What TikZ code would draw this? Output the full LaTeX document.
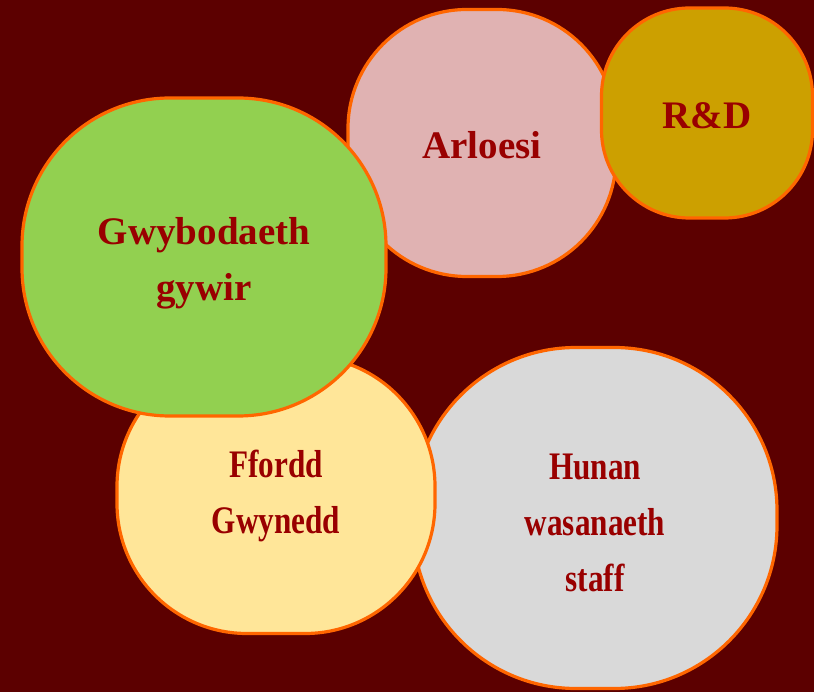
\documentclass[tikz,border=0pt]{standalone}
\usepackage{fontspec}
\setmainfont{Liberation Serif}
\newfontfamily\narrowfont[FakeStretch=0.8]{Liberation Serif}
\usepackage{tikz}
\definecolor{bgred}{RGB}{92, 0, 0}
\definecolor{rim}{RGB}{255, 102, 0}
\definecolor{wordred}{RGB}{153, 0, 0}
\definecolor{rosepink}{RGB}{224, 178, 178}
\definecolor{goldish}{RGB}{204, 160, 0}
\definecolor{leafgreen}{RGB}{146, 208, 80}
\definecolor{paleyellow}{RGB}{255, 230, 153}
\definecolor{lightgrey}{RGB}{217, 217, 217}

\begin{document}
\begin{tikzpicture}[x=1pt, y=-1pt,
   blob/.style={draw=rim, line width=3.2pt, align=center, text=wordred, inner sep=0pt,
                font=\fontsize{39}{56}\selectfont\bfseries, text height=31pt},
   slim/.style={font=\narrowfont\fontsize{39}{56}\selectfont\bfseries}]
   \useasboundingbox (0,0) rectangle (814,692);
   \fill[bgred] (0,0) rectangle (814,692);

   \node[blob, fill=rosepink, minimum width=268pt, minimum height=267pt, rounded corners=119pt]
     (arloesi) at (482,143) {Arloesi};
   \node[blob, fill=goldish, minimum width=211pt, minimum height=210pt, rounded corners=88pt]
     (rnd) at (707,113) {R\&D};

   %lower pair
   \node[blob, slim, fill=lightgrey, minimum width=364pt, minimum height=341pt, rounded corners=163pt, text height=148pt]
     (hunan) at (595,518) {Hunan\\wasanaeth\\staff};
   \node[blob, slim, fill=paleyellow, minimum width=318pt, minimum height=277pt, rounded corners=130pt, text height=85pt]
     (ffordd) at (276,495) {Ffordd\\Gwynedd};

   \node[blob, fill=leafgreen, minimum width=364pt, minimum height=318pt, rounded corners=148pt, text height=96pt]
     (gwybodaeth) at (204,257) {Gwybodaeth\\gywir};
\end{tikzpicture}
\end{document}
